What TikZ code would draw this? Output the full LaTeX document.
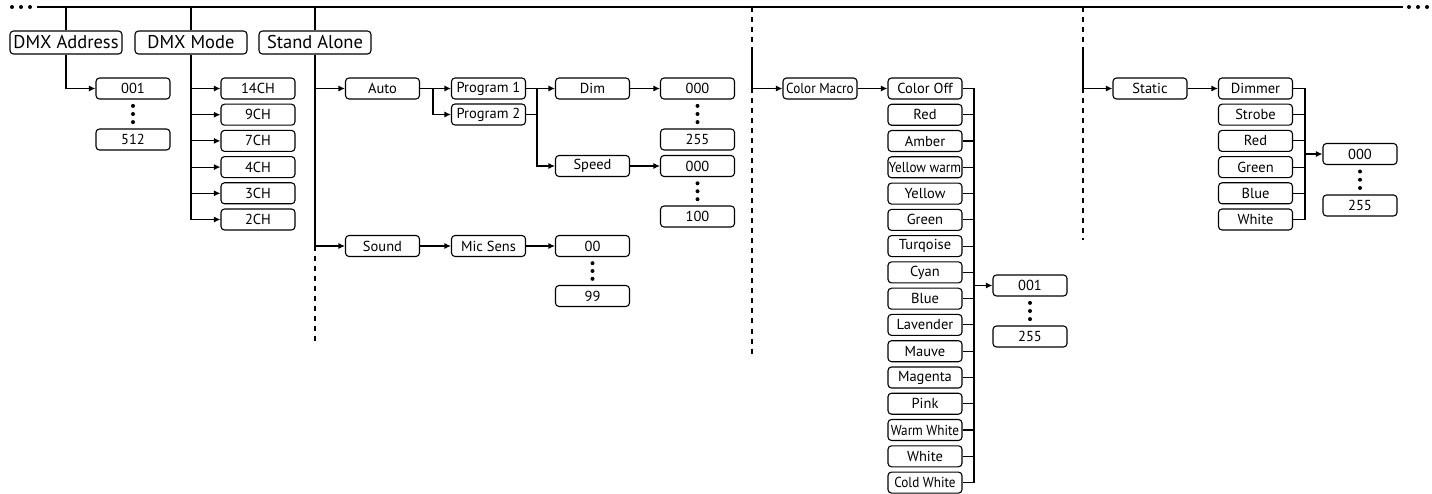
\documentclass[tikz,border=0pt]{standalone}
\usepackage{fontspec}
\setmainfont{PT Sans}
\usetikzlibrary{arrows.meta}

\tikzset{
  box/.style={draw,line width=1.1pt,rounded corners=3.5pt,minimum width=74pt,minimum height=21pt,inner sep=0pt,font=\fontsize{14.5}{16}\selectfont},
  head/.style={box,minimum width=112pt,minimum height=23pt,font=\fontsize{18.5}{20}\selectfont},
  tight/.style={font=\fontsize{14.5}{16}\selectfont\addfontfeature{FakeStretch=0.91}},
  link/.style={line width=1.1pt},
  arr/.style={link,-{Latex[length=6.5pt,width=6pt]}},
  sep/.style={line width=1.1pt,dash pattern=on 5pt off 5pt},
  dot/.style={circle,fill,inner sep=0pt,minimum size=4pt}
}

\begin{document}
\begin{tikzpicture}[x=1pt,y=-1pt]
\useasboundingbox (0,0) rectangle (1432,494);
% top line
\coordinate (lineL) at (37,7);
\coordinate (lineR) at (1403,7);
\draw[link] (lineL) -- (lineR);
\node[dot] (l1) at (12,7) {};
\node[dot] (l2) at (21,7) {};
\node[dot] (l3) at (30,7) {};
\node[dot] (r1) at (1409,7) {};
\node[dot] (r2) at (1418,7) {};
\node[dot] (r3) at (1427,7) {};
% main menu
\node[head] (addr) at (66,42.5) {DMX Address};
\node[head] (mode) at (191,42.5) {DMX Mode};
\node[head] (alone) at (315,42.5) {Stand Alone};
\draw[link] (addr.north) -- (addr.north |- lineL);
\draw[link] (mode.north) -- (mode.north |- lineL);
\draw[link] (alone.north) -- (alone.north |- lineL);
% DMX address
\node[box] (adr1) at (133,88.5) {001};
\node[box] (adr2) at (133,139.5) {512};
\draw[arr] (addr.south) |- (adr1.west);
\path (adr1.south) -- (adr2.north) node[pos=.22,dot]{} node[pos=.5,dot]{} node[pos=.78,dot]{};
% DMX mode
\node[box] (ch14) at (258,88.5) {14CH};
\node[box] (ch9) at (258,114.7) {9CH};
\node[box] (ch7) at (258,140.9) {7CH};
\node[box] (ch4) at (258,167.1) {4CH};
\node[box] (ch3) at (258,193.3) {3CH};
\node[box] (ch2) at (258,219.5) {2CH};
\draw[arr] (mode.south) |- (ch2.west);
\draw[arr] (mode.south |- ch14.west) -- (ch14.west);
\draw[arr] (mode.south |- ch9.west) -- (ch9.west);
\draw[arr] (mode.south |- ch7.west) -- (ch7.west);
\draw[arr] (mode.south |- ch4.west) -- (ch4.west);
\draw[arr] (mode.south |- ch3.west) -- (ch3.west);
% stand alone
\node[box] (auto) at (382.5,88.5) {Auto};
\node[box] (sound) at (382.5,246) {Sound};
\draw[arr] (alone.south) |- (sound.west);
\draw[arr] (alone.south |- auto.west) -- (auto.west);
\coordinate (saEnd) at (315,345);
\draw[sep] (alone.south |- sound.west) -- (saEnd);
\node[box] (prog1) at (488.5,88.5) {Program 1};
\node[box] (prog2) at (488.5,114.5) {Program 2};
\coordinate (fork1) at (433,88.5);
\draw[arr] (auto.east) -- (prog1.west);
\draw[arr] (fork1) |- (prog2.west);
\node[box] (dim) at (592.5,88.5) {Dim};
\node[box] (speed) at (592.5,166) {Speed};
\coordinate (fork2) at (537,88.5);
\draw[arr] (prog1.east) -- (dim.west);
\draw[link] (prog2.east) -- (fork2 |- prog2.east);
\draw[arr] (fork2) |- (speed.west);
\node[box] (dimLo) at (697.5,88.5) {000};
\node[box] (dimHi) at (697.5,139.5) {255};
\draw[arr] (dim.east) -- (dimLo.west);
\path (dimLo.south) -- (dimHi.north) node[pos=.22,dot]{} node[pos=.5,dot]{} node[pos=.78,dot]{};
\node[box] (spdLo) at (697.5,166) {000};
\node[box] (spdHi) at (697.5,216.5) {100};
\draw[arr] (speed.east) -- (spdLo.west);
\path (spdLo.south) -- (spdHi.north) node[pos=.22,dot]{} node[pos=.5,dot]{} node[pos=.78,dot]{};
\node[box] (mic) at (488.5,246) {Mic Sens};
\node[box] (micLo) at (592.5,246) {00};
\node[box] (micHi) at (592.5,296) {99};
\draw[arr] (sound.east) -- (mic.west);
\draw[arr] (mic.east) -- (micLo.west);
\path (micLo.south) -- (micHi.north) node[pos=.22,dot]{} node[pos=.5,dot]{} node[pos=.78,dot]{};
% color macro
\coordinate (cmTop) at (752,7);
\coordinate (cmMid) at (752,50);
\coordinate (cmEnd) at (752,355);
\node[box,tight] (macro) at (820,88.5) {Color Macro};
\draw[sep] (cmTop) -- (cmMid);
\draw[arr] (cmMid) |- (macro.west);
\draw[sep] (cmMid |- macro.west) -- (cmEnd);
\node[box] (cOff) at (925,88.5) {Color Off};
\node[box] (cRed) at (925,114.8) {Red};
\node[box] (cAmber) at (925,141) {Amber};
\node[box,tight] (cYwarm) at (925,167.3) {Yellow warm};
\node[box] (cYellow) at (925,193.6) {Yellow};
\node[box] (cGreen) at (925,219.9) {Green};
\node[box] (cTurq) at (925,246.1) {Turqoise};
\node[box] (cCyan) at (925,272.4) {Cyan};
\node[box] (cBlue) at (925,298.7) {Blue};
\node[box] (cLav) at (925,324.9) {Lavender};
\node[box] (cMauve) at (925,351.2) {Mauve};
\node[box] (cMag) at (925,377.5) {Magenta};
\node[box] (cPink) at (925,403.7) {Pink};
\node[box,tight] (cWwhite) at (925,430) {Warm White};
\node[box] (cWhite) at (925,456.3) {White};
\node[box,tight] (cCwhite) at (925,482.6) {Cold White};
\draw[arr] (macro.east) -- (cOff.west);
\coordinate (cBar) at (974,88.5);
\draw[link] (cOff.east) -- (cBar) -- (cBar |- cCwhite.east) -- (cCwhite.east);
\draw[link] (cRed.east) -- (cRed.east -| cBar);
\draw[link] (cAmber.east) -- (cAmber.east -| cBar);
\draw[link] (cYwarm.east) -- (cYwarm.east -| cBar);
\draw[link] (cYellow.east) -- (cYellow.east -| cBar);
\draw[link] (cGreen.east) -- (cGreen.east -| cBar);
\draw[link] (cTurq.east) -- (cTurq.east -| cBar);
\draw[link] (cCyan.east) -- (cCyan.east -| cBar);
\draw[link] (cBlue.east) -- (cBlue.east -| cBar);
\draw[link] (cLav.east) -- (cLav.east -| cBar);
\draw[link] (cMauve.east) -- (cMauve.east -| cBar);
\draw[link] (cMag.east) -- (cMag.east -| cBar);
\draw[link] (cPink.east) -- (cPink.east -| cBar);
\draw[link] (cWwhite.east) -- (cWwhite.east -| cBar);
\draw[link] (cWhite.east) -- (cWhite.east -| cBar);
\node[box] (cLo) at (1030,285.5) {001};
\node[box] (cHi) at (1030,336.5) {255};
\draw[arr] (cBar |- cLo.west) -- (cLo.west);
\path (cLo.south) -- (cHi.north) node[pos=.22,dot]{} node[pos=.5,dot]{} node[pos=.78,dot]{};
% static
\coordinate (stTop) at (1083,7);
\coordinate (stMid) at (1083,50);
\coordinate (stEnd) at (1083,240);
\node[box] (static) at (1150,88.5) {Static};
\draw[sep] (stTop) -- (stMid);
\draw[arr] (stMid) |- (static.west);
\draw[sep] (stMid |- static.west) -- (stEnd);
\node[box] (sDim) at (1255.5,88.5) {Dimmer};
\node[box] (sStrobe) at (1255.5,114.7) {Strobe};
\node[box] (sRed) at (1255.5,140.9) {Red};
\node[box] (sGreen) at (1255.5,167.1) {Green};
\node[box] (sBlue) at (1255.5,193.3) {Blue};
\node[box] (sWhite) at (1255.5,219.5) {White};
\draw[arr] (static.east) -- (sDim.west);
\coordinate (sBar) at (1305,88.5);
\draw[link] (sDim.east) -- (sBar) -- (sBar |- sWhite.east) -- (sWhite.east);
\draw[link] (sStrobe.east) -- (sStrobe.east -| sBar);
\draw[link] (sRed.east) -- (sRed.east -| sBar);
\draw[link] (sGreen.east) -- (sGreen.east -| sBar);
\draw[link] (sBlue.east) -- (sBlue.east -| sBar);
\node[box] (sLo) at (1360,154) {000};
\node[box] (sHi) at (1360,205.5) {255};
\draw[arr] (sBar |- sLo.west) -- (sLo.west);
\path (sLo.south) -- (sHi.north) node[pos=.22,dot]{} node[pos=.5,dot]{} node[pos=.78,dot]{};
\end{tikzpicture}
\end{document}
